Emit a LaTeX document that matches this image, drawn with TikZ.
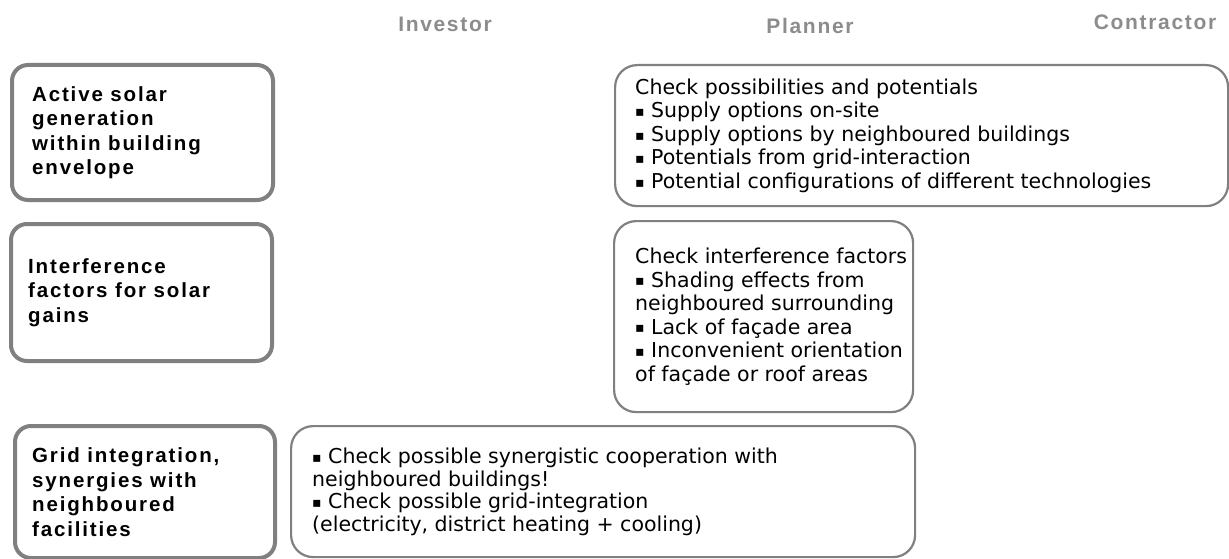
\documentclass[tikz,border=0pt]{standalone}
\usepackage{fontspec}
\setmainfont{DejaVu Sans}
\newfontfamily\labelfont[LetterSpace=9]{Liberation Sans}
\newfontfamily\headfont[LetterSpace=8]{Liberation Sans}
\newcommand\bul{\raisebox{1.2pt}{\fontsize{14}{14}\selectfont ▪}}
\definecolor{boxgray}{RGB}{128,128,128}
\definecolor{headgray}{RGB}{140,140,140}
\begin{document}
\begin{tikzpicture}[x=1pt,y=-1pt,
  lbox/.style={draw=boxgray, line width=4pt, rounded corners=16pt, inner sep=0pt, anchor=north west},
  rbox/.style={draw=boxgray, line width=2.2pt, rounded corners=22pt, inner sep=0pt, anchor=north west},
  ltext/.style={anchor=west, inner sep=0pt, align=left, font=\labelfont\bfseries\fontsize{20.5}{24.5}\selectfont},
  rtext/.style={anchor=west, inner sep=0pt, align=left, font=\fontsize{20.5}{23.5}\selectfont},
  head/.style={inner sep=0pt, text=headgray, font=\headfont\bfseries\fontsize{21}{22}\selectfont}]
\useasboundingbox (0,0) rectangle (1229,559);
% headers
\node[head] (h1) at (445,24) {Investor};
\node[head] (h2) at (810,26) {Planner};
\node[head] (h3) at (1155,22) {Contractor};
% left boxes
\node[lbox, minimum width=261pt, minimum height=135pt] (b1) at (10,63) {};
\node[lbox, minimum width=261pt, minimum height=137pt] (b2) at (9,222) {};
\node[lbox, minimum width=260pt, minimum height=132pt] (b3) at (13,424) {};
\node[ltext] (t1) at ([xshift=22pt]b1.west) {Active solar\\generation\\within building\\envelope};
\node[ltext] (t2) at ([xshift=19pt]b2.west) {Interference\\factors for solar\\gains};
\node[ltext] (t3) at ([xshift=19pt]b3.west) {Grid integration,\\synergies with\\neighboured\\facilities};
% right boxes
\node[rbox, minimum width=613pt, minimum height=141pt] (ba) at (614,64) {};
\node[rbox, minimum width=299pt, minimum height=191pt] (bb) at (613,220) {};
\node[rbox, minimum width=624pt, minimum height=131pt] (bc) at (290,425) {};
\node[rtext] (ta) at ([xshift=21pt]ba.west) {Check possibilities and potentials\\\bul{} Supply options on-site\\\bul{} Supply options by neighboured buildings\\\bul{} Potentials from grid-interaction\\\bul{} Potential configurations of different technologies};
\node[rtext] (tb) at ([xshift=22pt]bb.west) {Check interference factors\\\bul{} Shading effects from\\neighboured surrounding\\\bul{} Lack of façade area\\\bul{} Inconvenient orientation\\of façade or roof areas};
\node[rtext, font=\fontsize{20.5}{22.5}\selectfont] (tc) at ([xshift=22pt]bc.west) {\bul{} Check possible synergistic cooperation with\\neighboured buildings!\\\bul{} Check possible grid-integration\\(electricity, district heating + cooling)};
\end{tikzpicture}
\end{document}
